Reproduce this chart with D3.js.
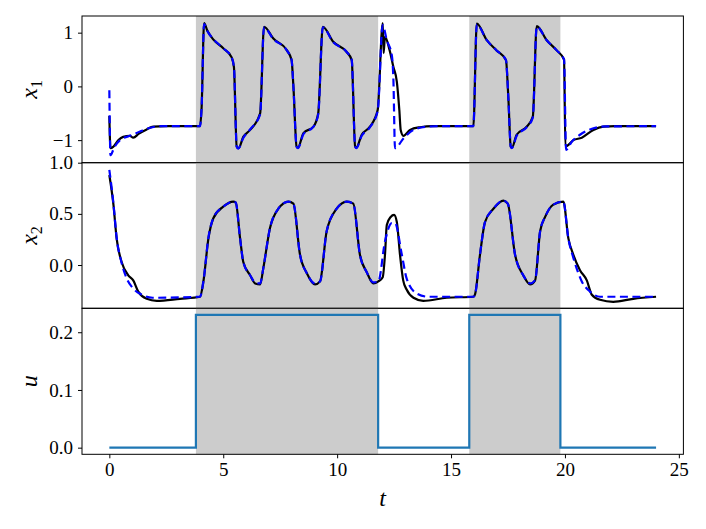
<!DOCTYPE html>
<html>
<head>
<meta charset="utf-8">
<script src="https://cdn.jsdelivr.net/npm/d3@7"></script>
<style>
  body { margin: 0; background: #fff; }
  svg { display: block; }
</style>
</head>
<body>
<svg width="706" height="529"></svg>
<script>
// input on/off windows (shaded)
var shaded = [[3.8, 11.8], [15.8, 19.8]];

// u(t) step input
var uSteps = [[0, 0], [3.8, 0.23], [11.8, 0], [15.8, 0.23], [19.8, 0], [24, 0]];

// x1: true (black) and model (blue dashed)
var x1True = [[0,-0.55],[0.05,-1.15],[0.18,-1.12],[0.4,-1.0],[0.61,-0.94],[0.9,-0.92],[1.05,-0.955],[1.3,-0.88],[1.64,-0.80],[1.93,-0.75],[2.5,-0.74],[3.98,-0.74],
  [4.05,-0.4],[4.16,1.18],[4.3,1.04],[4.57,0.87],[5.0,0.71],[5.37,0.54],[5.47,0.36],[5.59,-1.12],[5.67,-1.15],[5.88,-0.94],[6.18,-0.81],[6.62,-0.50],
  [6.79,1.11],[7.2,0.89],[7.79,0.675],[8.0,0.49],[8.08,0],[8.22,-1.12],[8.28,-1.14],[8.52,-0.87],[8.96,-0.75],[9.17,-0.5],
  [9.37,1.11],[9.83,0.83],[10.42,0.64],[10.64,0.49],[10.79,-1.12],[10.84,-1.14],[11.08,-0.9],[11.44,-0.75],[11.78,-0.44],
  [12.0,1.18],[12.04,0.62],[12.1,0.92],[12.3,0.68],[12.47,0.36],[12.62,0.09],[12.73,-0.44],[12.79,-0.81],[12.91,-0.92],[13.2,-0.81],[13.64,-0.76],[14.2,-0.74],[15.98,-0.74],
  [16.13,1.17],[16.57,0.86],[17.0,0.67],[17.41,0.49],[17.52,-0.25],[17.62,-1.12],[17.67,-1.14],[17.88,-0.9],[18.32,-0.75],[18.59,-0.56],
  [18.76,1.12],[19.2,0.86],[19.64,0.67],[19.96,0.5],[20.02,-1.12],[20.37,-1.0],[20.74,-0.955],[21.25,-0.81],[21.69,-0.75],[22.2,-0.74],[24,-0.74]];

var x1Model = [[0,-0.07],[0.05,-1.28],[0.2,-1.15],[0.47,-1.0],[0.9,-0.92],[1.35,-0.84],[1.79,-0.77],[2.3,-0.74],[3.98,-0.74],
  [4.05,-0.4],[4.16,1.16],[4.3,1.03],[4.57,0.88],[5.0,0.71],[5.37,0.54],[5.47,0.36],[5.59,-1.12],[5.65,-1.16],[5.88,-0.96],[6.18,-0.8],[6.62,-0.52],
  [6.79,1.1],[7.2,0.88],[7.79,0.67],[8.0,0.49],[8.08,0],[8.22,-1.12],[8.28,-1.15],[8.52,-0.89],[8.96,-0.75],[9.17,-0.52],
  [9.37,1.1],[9.83,0.82],[10.42,0.64],[10.64,0.49],[10.79,-1.12],[10.84,-1.15],[11.08,-0.92],[11.44,-0.76],[11.78,-0.46],
  [12.0,1.14],[12.18,0.86],[12.4,0.58],[12.47,0.12],[12.54,-1.15],[12.91,-0.97],[13.35,-0.81],[13.93,-0.75],[14.5,-0.74],[15.98,-0.74],
  [16.13,1.15],[16.57,0.86],[17.0,0.67],[17.41,0.49],[17.52,-0.25],[17.62,-1.12],[17.67,-1.15],[17.88,-0.92],[18.32,-0.76],[18.59,-0.58],
  [18.76,1.11],[19.2,0.86],[19.64,0.67],[19.96,0.5],[20.05,-1.18],[20.3,-1.03],[20.66,-0.9],[21.25,-0.78],[21.8,-0.745],[24,-0.74]];

// x2: true (black) and model (blue dashed)
var x2True = [[0,0.88],[0.18,0.59],[0.32,0.26],[0.54,0.03],[0.83,-0.10],[1.05,-0.15],[1.27,-0.26],[1.64,-0.33],[2.08,-0.35],[3.1,-0.33],[3.98,-0.31],
  [4.13,-0.16],[4.35,0.26],[4.57,0.46],[5.0,0.57],[5.44,0.62],[5.55,0.61],[5.74,0.26],[5.88,0.03],[6.18,-0.10],[6.4,-0.18],[6.62,-0.19],
  [6.76,-0.03],[7.05,0.36],[7.42,0.55],[7.86,0.62],[8.08,0.60],[8.37,0.10],[8.67,-0.08],[9.03,-0.19],[9.25,-0.16],
  [9.54,0.33],[9.98,0.55],[10.42,0.62],[10.71,0.60],[11.0,0.10],[11.3,-0.07],[11.59,-0.18],[11.81,-0.16],
  [12.0,-0.12],[12.1,0.1],[12.18,0.39],[12.35,0.47],[12.5,0.49],[12.62,0.42],[12.76,0.10],[12.9,-0.15],[13.05,-0.24],[13.35,-0.32],[13.78,-0.35],[14.81,-0.32],[15.98,-0.31],
  [16.05,-0.29],[16.27,0.10],[16.49,0.42],[16.86,0.55],[17.3,0.63],[17.49,0.60],[17.81,0.10],[18.17,-0.10],[18.47,-0.19],[18.69,-0.15],
  [18.91,0.33],[19.13,0.47],[19.49,0.59],[19.93,0.62],[20.15,0.26],[20.37,0.10],[20.66,-0.05],[20.96,-0.15],[21.18,-0.29],[21.54,-0.34],[22.12,-0.36],[23.0,-0.33],[24,-0.31]];

var x2Model = [[0,0.93],[0.18,0.6],[0.32,0.27],[0.54,0.02],[0.76,-0.13],[1.05,-0.23],[1.42,-0.29],[1.9,-0.32],[3.98,-0.31],
  [4.13,-0.16],[4.35,0.27],[4.57,0.46],[5.0,0.57],[5.44,0.62],[5.55,0.61],[5.74,0.26],[5.88,0.03],[6.18,-0.10],[6.4,-0.17],[6.62,-0.18],
  [6.76,-0.03],[7.05,0.36],[7.42,0.55],[7.86,0.62],[8.08,0.60],[8.37,0.10],[8.67,-0.08],[9.03,-0.18],[9.25,-0.16],
  [9.54,0.33],[9.98,0.55],[10.42,0.62],[10.71,0.60],[11.0,0.10],[11.3,-0.07],[11.59,-0.17],[11.81,-0.16],
  [12.1,0.23],[12.4,0.41],[12.54,0.41],[12.84,0.10],[13.05,-0.13],[13.5,-0.28],[14.0,-0.31],[15.98,-0.31],
  [16.05,-0.29],[16.27,0.10],[16.49,0.42],[16.86,0.55],[17.3,0.63],[17.49,0.60],[17.81,0.10],[18.17,-0.10],[18.47,-0.18],[18.69,-0.15],
  [18.91,0.33],[19.13,0.47],[19.49,0.59],[19.93,0.62],[20.15,0.26],[20.37,0.07],[20.74,-0.16],[21.1,-0.26],[21.54,-0.31],[24,-0.31]];

var xTicks = [0, 5, 10, 15, 20, 25];

var serif = "'Liberation Serif', 'DejaVu Serif', serif";
var svg = d3.select("svg");
var left = 82, right = 683.4;

var x = d3.scaleLinear().domain([-1.2, 25.2]).range([left, right]);

var panels = [
  { top: 16,    bottom: 162.7, domain: [-1.42, 1.31], ticks: [-1, 0, 1], fmt: d3.format("d"), label: ["x", "1"],
    series: [{ d: x1True, color: "#000", dash: null }, { d: x1Model, color: "#0000ff", dash: "8,4.5" }] },
  { top: 162.7, bottom: 308.3, domain: [-0.423, 1.0], ticks: [0, 0.5, 1.0], fmt: d3.format(".1f"), label: ["x", "2"],
    series: [{ d: x2True, color: "#000", dash: null }, { d: x2Model, color: "#0000ff", dash: "8,4.5" }] },
  { top: 308.3, bottom: 454.3, domain: [-0.0115, 0.2415], ticks: [0, 0.1, 0.2], fmt: d3.format(".1f"), label: ["u", null],
    series: [{ d: uSteps, color: "#1f77b4", dash: null, step: true }] }
];

function styleTicks(sel) {
  sel.select(".domain").remove();
  sel.attr("font-family", null).attr("font-size", null);
  sel.selectAll(".tick text")
    .attr("font-family", serif)
    .attr("font-size", 19)
    .attr("fill", "#000");
  sel.selectAll(".tick line").attr("stroke", "#000");
}

panels.forEach(function(p, i) {
  var y = d3.scaleLinear().domain(p.domain).range([p.bottom, p.top]);
  var g = svg.append("g");

  // shaded regions
  g.selectAll("rect.span")
    .data(shaded)
    .enter().append("rect")
    .attr("class", "span")
    .attr("x", function(d) { return x(d[0]); })
    .attr("width", function(d) { return x(d[1]) - x(d[0]); })
    .attr("y", p.top)
    .attr("height", p.bottom - p.top)
    .attr("fill", "#cccccc");

  p.series.forEach(function(s) {
    var line = d3.line()
      .x(function(d) { return x(d[0]); })
      .y(function(d) { return y(d[1]); })
      .curve(s.step ? d3.curveStepAfter : d3.curveMonotoneX);
    g.append("path")
      .datum(s.d)
      .attr("d", line)
      .attr("fill", "none")
      .attr("stroke", s.color)
      .attr("stroke-width", 2.2)
      .attr("stroke-dasharray", s.dash);
  });

  // y axis
  g.append("g")
    .attr("transform", "translate(" + left + ",0)")
    .call(d3.axisLeft(y).tickValues(p.ticks).tickFormat(p.fmt).tickSize(4).tickPadding(5))
    .call(styleTicks);

  // frame
  g.append("rect")
    .attr("x", left).attr("y", p.top)
    .attr("width", right - left).attr("height", p.bottom - p.top)
    .attr("fill", "none").attr("stroke", "#000").attr("stroke-width", 1);

  // y label
  var cy = (p.top + p.bottom) / 2;
  var t = svg.append("text")
    .attr("font-family", serif)
    .attr("font-style", "italic")
    .attr("font-size", 24)
    .attr("transform", "translate(37," + cy + ") rotate(-90)")
    .attr("text-anchor", "middle");
  t.append("tspan").text(p.label[0]);
  if (p.label[1]) {
    t.append("tspan").attr("dy", 5).attr("font-style", "normal").attr("font-size", 16).text(p.label[1]);
  }

  // x axis on bottom panel
  if (i === panels.length - 1) {
    svg.append("g")
      .attr("transform", "translate(0," + p.bottom + ")")
      .call(d3.axisBottom(x).tickValues(xTicks).tickFormat(d3.format("d")).tickSize(4).tickPadding(4))
      .call(styleTicks);
  }
});

svg.append("text")
  .attr("font-family", serif)
  .attr("font-style", "italic")
  .attr("font-size", 24)
  .attr("x", (left + right) / 2)
  .attr("y", 506)
  .attr("text-anchor", "middle")
  .text("t");
</script>
</body>
</html>
